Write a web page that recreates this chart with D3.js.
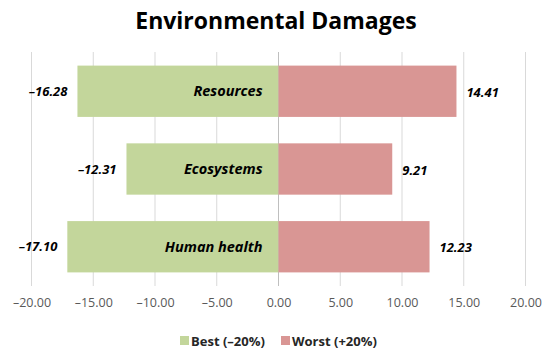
<!DOCTYPE html>
<html>
<head>
<meta charset="utf-8">
<script src="https://cdn.jsdelivr.net/npm/d3@7"></script>
<style>
  body { margin: 0; background: #fff; }
  #chart1 { width: 550px; height: 354px; }
  text { font-family: "Open Sans", "Noto Sans", sans-serif; }
</style>
</head>
<body>
<div id="chart1"></div>
<script>
var categories = ["Resources", "Ecosystems", "Human health"];
var bestValues = [-16.28, -12.31, -17.10];
var worstValues = [14.41, 9.21, 12.23];
var tickValues = [-20, -15, -10, -5, 0, 5, 10, 15, 20];
var seriesNames = ["Best (\u201320%)", "Worst (+20%)"];
var seriesColors = ["#c3d69b", "#d99694"];

var width = 550, height = 354;

var svg = d3.select("#chart1")
    .append("svg")
    .attr("width", width)
    .attr("height", height);

var x = d3.scaleLinear()
    .domain([-20, 20])
    .range([31.5, 525.5]);

var y = d3.scaleBand()
    .domain(categories)
    .range([52, 286])
    .paddingInner(0.34)
    .paddingOuter(0.175);

function fmt(v) {
    return (v < 0 ? "\u2013" : "") + d3.format(".2f")(Math.abs(v));
}

// title
svg.append("text")
    .attr("x", 276)
    .attr("y", 29)
    .attr("text-anchor", "middle")
    .attr("font-size", 23)
    .attr("font-weight", "bold")
    .attr("fill", "#000")
    .text("Environmental Damages");

// gridlines
svg.append("g")
    .selectAll("line")
    .data(tickValues)
    .enter()
    .append("line")
        .attr("x1", function(d) { return x(d); })
        .attr("x2", function(d) { return x(d); })
        .attr("y1", 52)
        .attr("y2", 286)
        .attr("stroke", function(d) { return d == 0 ? "#bfbfbf" : "#d9d9d9"; })
        .attr("stroke-width", 1);

// bars
var rows = categories.map(function(c, i) {
    return { cat: c, best: bestValues[i], worst: worstValues[i] };
});

svg.append("g")
    .selectAll("rect")
    .data(rows)
    .enter()
    .append("rect")
        .attr("x", function(d) { return x(d.best); })
        .attr("y", function(d) { return y(d.cat); })
        .attr("width", function(d) { return x(0) - x(d.best); })
        .attr("height", y.bandwidth())
        .attr("fill", seriesColors[0]);

svg.append("g")
    .selectAll("rect")
    .data(rows)
    .enter()
    .append("rect")
        .attr("x", x(0))
        .attr("y", function(d) { return y(d.cat); })
        .attr("width", function(d) { return x(d.worst) - x(0); })
        .attr("height", y.bandwidth())
        .attr("fill", seriesColors[1]);

// category labels inside green bars
svg.append("g")
    .selectAll("text")
    .data(rows)
    .enter()
    .append("text")
        .attr("x", x(0) - 16)
        .attr("y", function(d) { return y(d.cat) + y.bandwidth() / 2; })
        .attr("dy", "0.35em")
        .attr("text-anchor", "end")
        .attr("font-size", 14.5)
        .attr("font-weight", "bold")
        .attr("font-style", "italic")
        .attr("fill", "#000")
        .text(function(d) { return d.cat; });

// value labels
svg.append("g")
    .selectAll("text")
    .data(rows)
    .enter()
    .append("text")
        .attr("x", function(d) { return x(d.best) - 10; })
        .attr("y", function(d) { return y(d.cat) + y.bandwidth() / 2; })
        .attr("dy", "0.35em")
        .attr("text-anchor", "end")
        .attr("font-size", 13)
        .attr("font-weight", "bold")
        .attr("font-style", "italic")
        .attr("fill", "#000")
        .text(function(d) { return fmt(d.best); });

svg.append("g")
    .selectAll("text")
    .data(rows)
    .enter()
    .append("text")
        .attr("x", function(d) { return x(d.worst) + 10; })
        .attr("y", function(d) { return y(d.cat) + y.bandwidth() / 2 + 1; })
        .attr("dy", "0.35em")
        .attr("text-anchor", "start")
        .attr("font-size", 13)
        .attr("font-weight", "bold")
        .attr("font-style", "italic")
        .attr("fill", "#000")
        .text(function(d) { return fmt(d.worst); });

// x axis
var xAxis = d3.axisBottom(x)
    .tickValues(tickValues)
    .tickSize(0)
    .tickPadding(0)
    .tickFormat(fmt);

var axisG = svg.append("g")
    .attr("transform", "translate(0,298)")
    .call(xAxis);
axisG.select(".domain").remove();
axisG.selectAll("text")
    .attr("font-size", 12.5)
    .attr("font-family", "\"Open Sans\", sans-serif")
    .attr("fill", "#595959");

// legend
var legend = svg.append("g")
    .attr("transform", "translate(180,341)");
var legendX = [0, 101];
seriesNames.forEach(function(name, i) {
    legend.append("rect")
        .attr("x", legendX[i])
        .attr("y", -5)
        .attr("width", 9)
        .attr("height", 9)
        .attr("fill", seriesColors[i]);
    legend.append("text")
        .attr("x", legendX[i] + 11)
        .attr("y", 0)
        .attr("dy", "0.35em")
        .attr("font-size", 13)
        .attr("font-weight", "bold")
        .attr("fill", "#262626")
        .text(name);
});
</script>
</body>
</html>
